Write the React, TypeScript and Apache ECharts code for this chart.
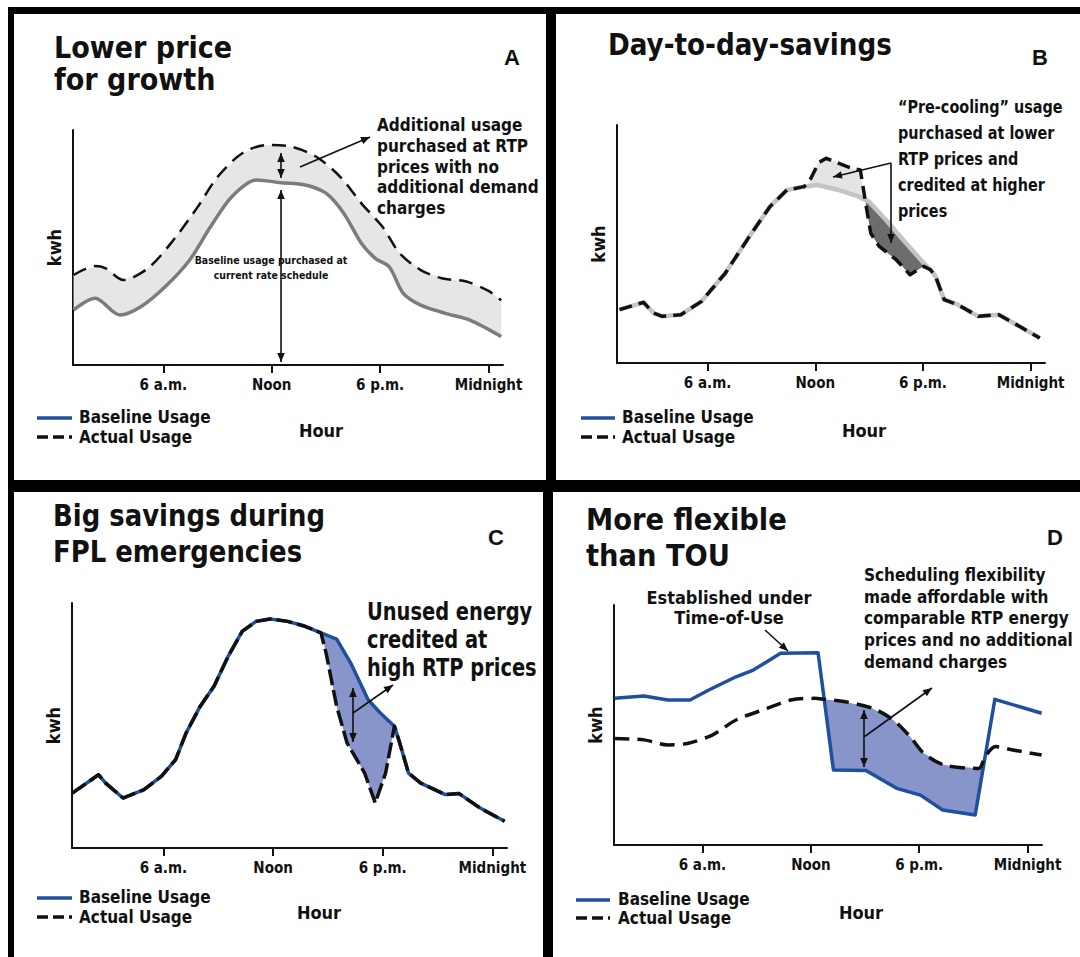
import React, { useEffect, useRef } from 'react';
import * as echarts from 'echarts';

// ---------- texts ----------
const hourTicks = [6, 12, 18, 24];
const hourLabels = ['6 a.m.', 'Noon', '6 p.m.', 'Midnight'];
const legendLabels = ['Baseline Usage', 'Actual Usage'];
const axisNameX = 'Hour';
const axisNameY = 'kwh';
const panelLetters = ['A', 'B', 'C', 'D'];
const panelTitles = [
  ['Lower price', 'for growth'],
  ['Day-to-day-savings'],
  ['Big savings during', 'FPL emergencies'],
  ['More flexible', 'than TOU'],
];
const noteA = ['Additional usage', 'purchased at RTP', 'prices with no', 'additional demand', 'charges'];
const noteA2 = ['Baseline usage purchased at', 'current rate schedule'];
const noteB = ['\u201cPre-cooling\u201d usage', 'purchased at lower', 'RTP prices and', 'credited at higher', 'prices'];
const noteC = ['Unused energy', 'credited at', 'high RTP prices'];
const noteD1 = ['Established under', 'Time-of-Use'];
const noteD2 = ['Scheduling flexibility', 'made affordable with', 'comparable RTP energy', 'prices and no additional', 'demand charges'];

// ---------- data: [hour, kwh index] ----------
const aBaseline = [[1.03,23.4],[2.23,28.4],[3.59,21.3],[4.75,24.8],[6.1,33.3],[7.46,44.7],[8.62,58.9],[9.79,71.6],[11.14,78.7],[12.5,77.6],[13.86,76.6],[15.02,73.0],[15.99,64.5],[16.96,51.8],[17.73,45.4],[18.5,41.8],[19.28,30.5],[20.25,25.5],[21.61,22.0],[22.97,19.1],[24.7,12.1]];
const aActual = [[1.03,38.3],[2.23,42.1],[2.81,41.1],[3.78,36.2],[5.14,41.1],[6.49,52.5],[7.85,66.7],[9.01,80.1],[10.37,90.1],[11.72,93.6],[13.08,92.9],[14.44,88.7],[15.79,80.1],[16.96,68.8],[18.12,58.9],[19.09,47.5],[20.25,40.4],[21.41,36.9],[22.77,35.5],[24.0,31.5],[24.7,27.5]];

const bBaseline = [[1.09,22.4],[2.42,25.5],[2.99,21.0],[3.47,19.6],[4.51,20.3],[5.66,25.9],[6.99,37.8],[8.32,53.1],[9.47,65.7],[10.42,72.7],[11.37,74.1],[12.13,74.8],[13.28,72.7],[14.42,69.9],[14.78,68.5],[14.99,67.8],[15.94,60.1],[16.9,51.7],[18.04,42.0],[18.42,39.2],[18.7,36.4],[19.18,26.6],[19.94,24.5],[21.09,19.6],[22.23,20.3],[23.37,15.4],[24.51,10.5]];
const bActual = [[1.09,22.4],[2.42,25.5],[2.99,21.0],[3.47,19.6],[4.51,20.3],[5.66,25.9],[6.99,37.8],[8.32,53.1],[9.47,65.7],[10.42,72.7],[11.37,74.1],[11.66,76.2],[12.19,84.2],[12.61,86.0],[14.04,81.8],[14.51,81.1],[14.78,68.5],[14.9,62.9],[15.09,54.5],[15.56,49.0],[16.51,43.4],[17.28,37.1],[18.04,40.6],[18.42,39.2],[18.7,36.4],[19.18,26.6],[19.94,24.5],[21.09,19.6],[22.23,20.3],[23.37,15.4],[24.51,10.5]];

const cBaseline = [[1.02,22.4],[2.45,29.9],[2.84,26.5],[3.79,20.4],[4.94,23.8],[5.9,29.3],[6.67,36.1],[7.24,46.9],[8.01,57.8],[8.77,66.0],[9.54,78.2],[10.31,88.4],[11.07,92.5],[11.84,93.5],[12.8,92.5],[13.75,90.5],[14.62,87.8],[15.48,85.3],[16.25,75.5],[17.2,60.5],[17.87,55.1],[18.64,49.7],[18.93,42.9],[19.41,30.6],[20.08,26.5],[21.42,21.8],[22.18,22.2],[23.33,16.3],[24.67,10.9]];
const cActual = [[1.02,22.4],[2.45,29.9],[2.84,26.5],[3.79,20.4],[4.94,23.8],[5.9,29.3],[6.67,36.1],[7.24,46.9],[8.01,57.8],[8.77,66.0],[9.54,78.2],[10.31,88.4],[11.07,92.5],[11.84,93.5],[12.8,92.5],[13.75,90.5],[14.62,87.8],[14.9,79.6],[15.48,57.8],[16.05,42.9],[17.01,30.6],[17.59,18.4],[18.16,30.6],[18.64,49.7],[18.93,42.9],[19.41,30.6],[20.08,26.5],[21.42,21.8],[22.18,22.2],[23.33,16.3],[24.67,10.9]];

const dBaseline = [[1.12,61.1],[2.76,62.1],[4.08,60.4],[5.31,60.4],[6.35,64.6],[7.86,70.1],[8.81,72.9],[9.57,76.4],[10.32,79.9],[12.4,80.1],[12.74,60.7],[13.25,31.3],[15.05,31.0],[16.75,23.6],[18.07,20.8],[19.3,14.6],[21.1,12.5],[21.65,36.8],[22.19,60.7],[24.78,54.9]];
const dActual = [[1.12,44.4],[2.76,43.8],[4.08,41.7],[5.22,42.4],[6.54,45.8],[7.86,52.1],[9.57,56.9],[10.89,60.4],[12.21,61.1],[12.74,60.7],[13.91,59.7],[15.43,56.9],[16.56,52.1],[17.5,45.1],[18.26,38.2],[19.4,33.3],[21.29,31.9],[21.65,36.8],[22.23,41.0],[23.18,39.6],[24.78,37.5]];

// ---------- style ----------
const NARROW = "'Liberation Sans Narrow', 'DejaVu Sans Condensed', 'Arial Narrow', sans-serif";
const ARIAL = "'Liberation Sans', Arial, sans-serif";
const INK = '#111111';
const BLUE = '#1f4f9e';
const FILL_BLUE = '#8795cb';

const grids = [
  { left: 73, top: 130, width: 430, height: 235 },
  { left: 617, top: 125, width: 428, height: 238 },
  { left: 72, top: 603, width: 435, height: 245 },
  { left: 614, top: 605, width: 428, height: 240 },
];
const xMins = [1.0, 0.95, 1.0, 1.1];

function polyBetween(upper: number[][], lower: number[][], h0: number, h1: number) {
  const up = upper.filter((p) => p[0] >= h0 && p[0] <= h1);
  const lo = lower.filter((p) => p[0] >= h0 && p[0] <= h1).slice().reverse();
  return up.concat(lo);
}

function fillSeries(idx: number, pts: number[][], color: string) {
  return {
    type: 'custom',
    xAxisIndex: idx,
    yAxisIndex: idx,
    silent: true,
    z: 1,
    data: [pts[0]],
    renderItem: (_p: any, api: any) => ({
      type: 'polygon',
      shape: { points: pts.map((p) => api.coord(p)) },
      style: { fill: color, stroke: null },
    }),
  };
}

function lineSeries(idx: number, data: number[][], color: string, width: number, dash: any, smooth: number, z: number) {
  return {
    type: 'line',
    xAxisIndex: idx,
    yAxisIndex: idx,
    data,
    symbol: 'none',
    smooth,
    silent: true,
    z,
    lineStyle: { color, width, type: dash, cap: 'butt', join: 'round' },
  };
}

function txt(x: number, y: number, text: string, size: number, align = 'left', family = NARROW, sx = 1, lh?: number) {
  const el: any = {
    type: 'text',
    x,
    y,
    scaleX: sx,
    silent: true,
    z: 20,
    style: {
      text,
      fill: INK,
      fontSize: size,
      fontWeight: 'bold',
      fontFamily: family,
      textAlign: align,
      textVerticalAlign: 'middle',
    },
  };
  if (lh) el.style.lineHeight = lh;
  return el;
}

function lines(x: number, y0: number, step: number, arr: string[], size: number, align = 'left', sx = 1) {
  return arr.map((t, i) => txt(x, y0 + i * step, t, size, align, NARROW, sx));
}

function head(x: number, y: number, ang: number) {
  const L = 9, W = 3.8;
  const bx = x - L * Math.cos(ang), by = y - L * Math.sin(ang);
  const px = -Math.sin(ang) * W, py = Math.cos(ang) * W;
  return { type: 'polygon', silent: true, z: 21, shape: { points: [[x, y], [bx + px, by + py], [bx - px, by - py]] }, style: { fill: INK } };
}

function arrow(x1: number, y1: number, x2: number, y2: number, endHead = true, startHead = false) {
  const ang = Math.atan2(y2 - y1, x2 - x1);
  const out: any[] = [
    { type: 'line', silent: true, z: 21, shape: { x1, y1, x2, y2 }, style: { stroke: INK, lineWidth: 1.6 } },
  ];
  if (endHead) out.push(head(x2, y2, ang));
  if (startHead) out.push(head(x1, y1, ang + Math.PI));
  return out;
}

function legend(x0: number, x1: number, y1: number, y2: number, tx: number) {
  return [
    { type: 'line', silent: true, z: 20, shape: { x1: x0, y1, x2: x1, y2: y1 }, style: { stroke: BLUE, lineWidth: 3.5 } },
    { type: 'line', silent: true, z: 20, shape: { x1: x0, y1: y2, x2: x1, y2 }, style: { stroke: INK, lineWidth: 3.5, lineDash: [11, 5] } },
    txt(tx, y1 - 1, legendLabels[0], 17),
    txt(tx, y2, legendLabels[1], 17),
  ];
}

function rect(x: number, y: number, w: number, h: number) {
  return { type: 'rect', silent: true, z: 30, shape: { x, y, width: w, height: h }, style: { fill: '#000' } };
}

export default function App() {
  const ref = useRef<HTMLDivElement>(null);
  useEffect(() => {
    document.body.style.margin = '0';
    if (!ref.current) return;
    const chart = echarts.init(ref.current, undefined, { renderer: 'svg' });

    const xAxis = grids.map((_, i) => ({
      type: 'value',
      gridIndex: i,
      min: xMins[i],
      max: 24.8,
      axisLine: { show: true, onZero: false, lineStyle: { color: INK, width: 2 } },
      axisTick: { show: true, customValues: hourTicks, length: 8, lineStyle: { color: INK, width: 2 } },
      axisLabel: {
        show: true,
        customValues: hourTicks,
        formatter: (v: number) => hourLabels[hourTicks.indexOf(v)] || '',
        color: INK,
        fontFamily: NARROW,
        fontWeight: 'bold',
        fontSize: 15,
        margin: 12,
      },
      splitLine: { show: false },
    }));
    const yAxis = grids.map((_, i) => ({
      type: 'value',
      gridIndex: i,
      min: 0,
      max: 100,
      axisLine: { show: true, onZero: false, lineStyle: { color: INK, width: 2 } },
      axisTick: { show: false },
      axisLabel: { show: false },
      splitLine: { show: false },
      name: axisNameY,
      nameLocation: 'middle',
      nameRotate: 90,
      nameGap: 10,
      nameTextStyle: { color: INK, fontFamily: NARROW, fontWeight: 'bold', fontSize: 18 },
    }));

    const series: any[] = [
      // A
      fillSeries(0, polyBetween(aActual, aBaseline, 0, 25), '#e6e6e6'),
      lineSeries(0, aBaseline, '#7c7c7c', 3.5, 'solid', 0.3, 3),
      lineSeries(0, aActual, INK, 2.5, [14, 8], 0.3, 4),
      // B
      fillSeries(1, polyBetween(bActual, bBaseline, 11.37, 14.78), '#e4e4e4'),
      fillSeries(1, polyBetween(bBaseline, bActual, 14.78, 18.42), '#6c6c6c'),
      lineSeries(1, bBaseline, '#c4c4c4', 4.5, 'solid', 0, 3),
      lineSeries(1, bActual, INK, 3.5, [13, 7], 0, 4),
      // C
      fillSeries(2, polyBetween(cBaseline, cActual, 14.62, 18.64), FILL_BLUE),
      lineSeries(2, cBaseline, BLUE, 3.5, 'solid', 0, 3),
      lineSeries(2, cActual, INK, 3.5, [16, 5], 0, 4),
      // D
      fillSeries(3, polyBetween(dActual, dBaseline, 12.74, 21.65), FILL_BLUE),
      lineSeries(3, dBaseline, BLUE, 3.5, 'solid', 0, 3),
      lineSeries(3, dActual, INK, 3.5, [15, 8], 0.3, 4),
    ];

    const graphic: any[] = [
      // frame
      rect(8, 7, 1072, 7),
      rect(8, 7, 6, 950),
      rect(546, 7, 10, 485),
      rect(543, 480, 10, 477),
      rect(8, 480, 1072, 12),
      // titles
      txt(54, 63, panelTitles[0].join('\n'), 31, 'left', NARROW, 0.97, 32),
      txt(608, 44, panelTitles[1].join('\n'), 31, 'left', NARROW, 0.94),
      txt(53, 533, panelTitles[2].join('\n'), 31, 'left', NARROW, 0.93, 36),
      txt(586, 537, panelTitles[3].join('\n'), 31, 'left', NARROW, 0.98, 36),
      // letters
      txt(512, 57, panelLetters[0], 22, 'center', ARIAL),
      txt(1040, 57, panelLetters[1], 22, 'center', ARIAL),
      txt(496, 537, panelLetters[2], 22, 'center', ARIAL),
      txt(1055, 537, panelLetters[3], 22, 'center', ARIAL),
      // A notes
      ...lines(377, 125, 20.8, noteA, 17),
      ...arrow(300, 167, 370, 137),
      ...arrow(281, 153, 281, 178, true, true),
      ...arrow(281, 190, 281, 362, true, true),
      ...lines(271, 260, 15, noteA2, 11, 'center', 0.95),
      // B notes
      ...lines(898, 107, 26, noteB, 18, 'left', 0.89),
      ...arrow(891, 163, 833, 177),
      ...arrow(891, 163, 891, 243),
      // C notes
      ...lines(367, 612, 28, noteC, 24, 'left', 0.9),
      ...arrow(353, 688, 353, 742, true, true),
      ...arrow(353, 713, 393, 685),
      // D notes
      ...lines(729, 597, 20.5, noteD1, 18, 'center'),
      ...arrow(765, 630, 788, 651),
      ...lines(864, 575, 21.7, noteD2, 17),
      ...arrow(864, 737, 932, 688),
      ...arrow(864, 710, 864, 767, true, true),
      // legends
      ...legend(37, 72, 418, 437, 79),
      ...legend(581, 615, 418, 437, 622),
      ...legend(37, 72, 898, 917, 79),
      ...legend(576, 610, 900, 918, 618),
      // x names
      txt(321, 430, axisNameX, 18, 'center'),
      txt(864, 430, axisNameX, 18, 'center'),
      txt(319, 912, axisNameX, 18, 'center'),
      txt(861, 912, axisNameX, 18, 'center'),
    ];

    chart.setOption({
      animation: false,
      backgroundColor: '#ffffff',
      grid: grids.map((g) => ({ ...g, containLabel: false })),
      xAxis,
      yAxis,
      series,
      graphic,
    });
    return () => chart.dispose();
  }, []);
  return <div ref={ref} style={{ width: 1080, height: 957 }} />;
}
